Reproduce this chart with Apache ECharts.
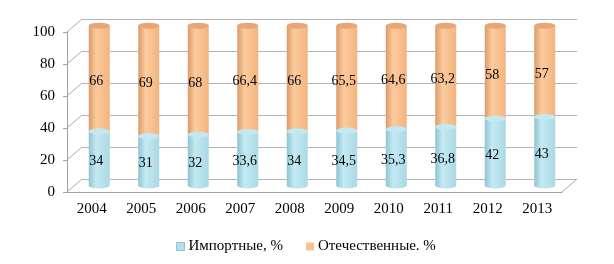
<!DOCTYPE html>
<html>
<head>
<meta charset="utf-8">
<script src="https://cdn.jsdelivr.net/npm/echarts@6/dist/echarts.min.js"></script>
<style>
html, body { margin: 0; padding: 0; background: #fff; }
#main { width: 614px; height: 264px; }
</style>
</head>
<body>
<div id="main"></div>
<script>
// данные
var years = ['2004','2005','2006','2007','2008','2009','2010','2011','2012','2013'];
var importVals = [34, 31, 32, 33.6, 34, 34.5, 35.3, 36.8, 42, 43];
var domesticVals = [66, 69, 68, 66.4, 66, 65.5, 64.6, 63.2, 58, 57];
var yTicks = [0, 20, 40, 60, 80, 100];
var seriesNames = ['Импортные, %', 'Отечественные. %'];

var totals = importVals.map(function (v, i) { return v + domesticVals[i]; });

// передняя плоскость и глубина "3D"
var front = { left: 67, right: 52, top: 32, bottom: 72 };
var dx = 15, dy = 13;
function shift(k) {
    return { left: front.left + dx * k, right: front.right - dx * k, top: front.top - dy * k, bottom: front.bottom + dy * k };
}
var back = shift(1), mid = shift(0.5);

var serif = 'Liberation Serif';
var barW = 21;

function cyl(c1, c2, c3) {
    return new echarts.graphic.LinearGradient(0, 0, 1, 0, [
        { offset: 0, color: c1 },
        { offset: 0.35, color: c2 },
        { offset: 1, color: c3 }
    ]);
}
var blueFill = cyl('#8fc3d1', '#c4eaf3', '#aad8e4');
var orangeFill = cyl('#dc9a68', '#fccb9d', '#f2b47f');

function fmt(p) { return String(p.value).replace('.', ','); }

var myChart = echarts.init(document.getElementById('main'));
var option = {
    animation: false,
    grid: [
        { left: back.left, right: back.right, top: back.top, bottom: back.bottom },
        { left: mid.left, right: mid.right, top: mid.top, bottom: mid.bottom },
        { left: front.left, right: front.right, top: front.top, bottom: front.bottom }
    ],
    legend: {
        data: [
            { name: seriesNames[0], itemStyle: { color: '#b7dee8', borderColor: '#8cc6d6', borderWidth: 1 } },
            { name: seriesNames[1], itemStyle: { color: '#fac090', borderColor: '#fac090', borderWidth: 0 } }
        ],
        left: 171,
        top: 234,
        itemWidth: 8,
        itemHeight: 8,
        itemGap: 23,
        icon: 'rect',
        textStyle: { fontFamily: serif, fontSize: 15, color: '#000', padding: [0, 0, 0, -1] }
    },
    xAxis: [
        { gridIndex: 0, type: 'category', data: years, show: false },
        { gridIndex: 1, type: 'category', data: years, show: false },
        {
            gridIndex: 2, type: 'category', data: years,
            axisLine: { lineStyle: { color: '#a0a0a0' } },
            axisTick: { length: 5, lineStyle: { color: '#a0a0a0' } },
            axisLabel: { fontFamily: serif, fontSize: 15, color: '#000', margin: 10 }
        }
    ],
    yAxis: [
        {
            gridIndex: 0, type: 'value', min: 0, max: 100, interval: 20,
            axisLine: { show: false }, axisTick: { show: false }, axisLabel: { show: false },
            splitLine: { lineStyle: { color: '#b4b4b4' } }
        },
        { gridIndex: 1, type: 'value', min: 0, max: 100, interval: 20, show: false, splitLine: { show: false } },
        {
            gridIndex: 2, type: 'value', min: 0, max: 100, interval: 20,
            axisLine: { show: true, lineStyle: { color: '#a0a0a0' } },
            axisTick: { show: true, length: 4, lineStyle: { color: '#a0a0a0' } },
            axisLabel: { fontFamily: serif, fontSize: 15, color: '#000', margin: 12 },
            splitLine: { show: false }
        }
    ],
    series: [
        {
            name: seriesNames[0], type: 'bar', stack: 'total',
            xAxisIndex: 1, yAxisIndex: 1, barWidth: barW,
            itemStyle: { color: blueFill },
            label: { show: true, position: 'inside', offset: [-3, 3], formatter: fmt,
                     fontFamily: serif, fontSize: 14, color: '#000' },
            data: importVals
        },
        {
            name: seriesNames[1], type: 'bar', stack: 'total',
            xAxisIndex: 1, yAxisIndex: 1, barWidth: barW,
            itemStyle: { color: orangeFill },
            label: { show: true, position: 'inside', offset: [-3, 3], formatter: fmt,
                     fontFamily: serif, fontSize: 14, color: '#000' },
            data: domesticVals
        },
        // донышко цилиндра
        {
            type: 'pictorialBar', xAxisIndex: 1, yAxisIndex: 1, z: 1,
            symbol: 'circle', symbolSize: [barW, 6], symbolPosition: 'start', symbolOffset: [0, '50%'],
            itemStyle: { color: blueFill },
            data: importVals
        },
        // граница синий/оранжевый
        {
            type: 'pictorialBar', xAxisIndex: 1, yAxisIndex: 1, z: 3,
            symbol: 'circle', symbolSize: [barW, 6], symbolPosition: 'end', symbolOffset: [0, '-50%'],
            itemStyle: { color: '#c3e8f1', borderColor: '#a4d6e3', borderWidth: 0.8 },
            data: importVals
        },
        // верхняя крышка
        {
            type: 'pictorialBar', xAxisIndex: 1, yAxisIndex: 1, z: 3,
            symbol: 'circle', symbolSize: [barW, 6], symbolPosition: 'end', symbolOffset: [0, '-50%'],
            itemStyle: { color: '#e8a677', borderColor: '#f7c69c', borderWidth: 0.8 },
            data: totals
        }
    ]
};
myChart.setOption(option);

// боковая стенка и пол (наклонные линии)
var W = 614, lines = [];
yTicks.forEach(function (v) {
    var y = myChart.convertToPixel({ yAxisIndex: 2 }, v);
    lines.push({ x1: front.left, y1: y, x2: front.left + dx, y2: y - dy });
});
var y0 = myChart.convertToPixel({ yAxisIndex: 2 }, 0);
lines.push({ x1: W - front.right, y1: y0, x2: W - front.right + dx, y2: y0 - dy });

myChart.setOption({
    graphic: lines.map(function (l) {
        return { type: 'line', shape: l, z: 0, silent: true, style: { stroke: '#a8a8a8', lineWidth: 1 } };
    })
});
</script>
</body>
</html>
